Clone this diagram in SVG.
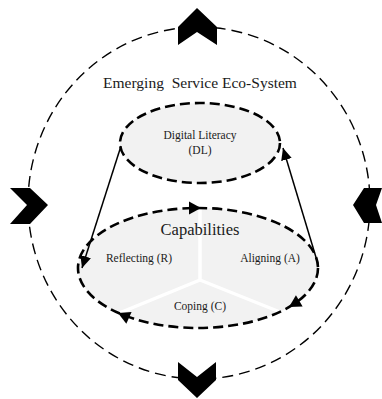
<svg xmlns="http://www.w3.org/2000/svg" width="382" height="399" viewBox="0 0 382 399">
<style>
.outer{fill:none;stroke:#000;stroke-width:1.4;stroke-dasharray:11 6}
.inner{fill:#f2f2f2;stroke:#000;stroke-width:2.6;stroke-dasharray:10 5}
.chev{fill:#000}
.sep{stroke:#fff;stroke-width:3.5;stroke-linecap:butt}
.t{font-family:"Liberation Serif","Times New Roman",serif;fill:#1a1a1a;text-anchor:middle}
.link{fill:none;stroke:#000;stroke-width:1.5}
</style>
<defs>
<marker id="ah" markerUnits="userSpaceOnUse" markerWidth="12" markerHeight="11" refX="12" refY="5.5" orient="auto">
<path d="M0,0 L12,5.5 L0,11 Z" fill="#000"/>
</marker>
<path id="tri" d="M0,0 L-12,-6.5 L-12,6.5 Z" fill="#000"/>
</defs>
<g id="ecosystem">
<ellipse class="outer" cx="199" cy="203" rx="171" ry="176"/>
<text class="t" x="200" y="88" font-size="15.5" xml:space="preserve" style="white-space:pre">Emerging  Service Eco-System</text>
</g>
<g id="chevrons">
<polygon class="chev" points="197,8 217,27 217,45 197,32 178,45 178,27"/>
<polygon class="chev" points="178,362 197,377 216,362 216,380 197,398 178,380"/>
<polygon class="chev" points="10,188 30,188 48,205 30,224 10,224 27,205"/>
<polygon class="chev" points="382,188 364,188 353,205 364,223 382,223 376,205"/>
</g>
<g id="digital-literacy">
<ellipse class="inner" cx="200" cy="143" rx="80" ry="40"/>
<text class="t" x="200" y="139" font-size="11.5">Digital Literacy</text>
<text class="t" x="200" y="154" font-size="11.5">(DL)</text>
</g>
<g id="capabilities">
<ellipse cx="198" cy="268" rx="120" ry="60" fill="#f2f2f2"/>
<line class="sep" x1="200" y1="280" x2="200" y2="204"/>
<line class="sep" x1="200" y1="280" x2="112" y2="316"/>
<line class="sep" x1="200" y1="280" x2="295" y2="318"/>
<ellipse cx="198" cy="268" rx="120" ry="60" fill="none" stroke="#000" stroke-width="2.6" stroke-dasharray="10 5"/>
<use href="#tri" transform="translate(201,208)"/>
<use href="#tri" transform="translate(289,307) rotate(149)"/>
<use href="#tri" transform="translate(118,313) rotate(204)"/>
<text class="t" x="200" y="235" font-size="16.5">Capabilities</text>
<text class="t" x="139" y="262" font-size="11.5">Reflecting (R)</text>
<text class="t" x="270" y="262" font-size="11.5">Aligning (A)</text>
<text class="t" x="200" y="310" font-size="11.5">Coping (C)</text>
</g>
<g id="connectors">
<line class="link" x1="121" y1="146" x2="82" y2="268" marker-end="url(#ah)"/>
<line class="link" x1="318" y1="264" x2="283" y2="148" marker-end="url(#ah)"/>
</g>
</svg>
